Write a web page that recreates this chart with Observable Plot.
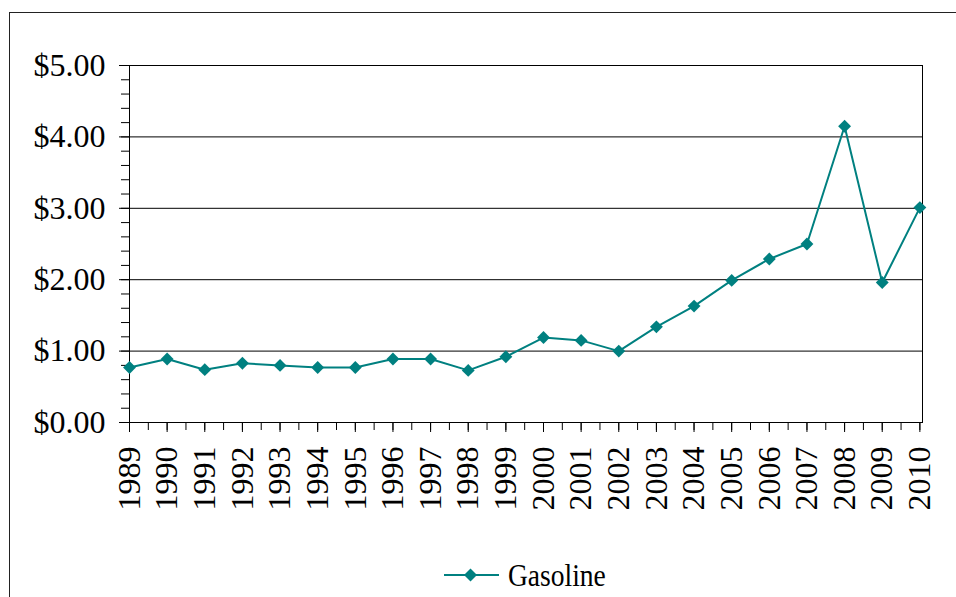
<!DOCTYPE html>
<html>
<head>
<meta charset="utf-8">
<script src="https://cdn.jsdelivr.net/npm/d3@7"></script>
<script src="https://cdn.jsdelivr.net/npm/@observablehq/plot@0.6"></script>
<style>
  html, body { margin: 0; padding: 0; background: #fff; }
  #wrap { position: relative; width: 956px; height: 597px; overflow: hidden; background: #fff; }
  #outer { position: absolute; left: 9px; top: 12px; width: 2000px; height: 2000px; border-left: 1.5px solid #222; border-top: 1.5px solid #222; box-sizing: border-box; }
  #chart { position: absolute; left: 0; top: 0; }
  #legend { position: absolute; left: 444px; top: 560px; height: 30px; display: flex; align-items: center; font-family: 'Liberation Serif', 'Times New Roman', serif; font-size: 32px; color: #000; }
  #legend span { display: inline-block; transform: scaleX(0.86); transform-origin: left center; margin-left: 8px; line-height: 30px; }
</style>
</head>
<body>
<div id="wrap">
  <div id="outer"></div>
  <div id="chart"></div>
  <div id="legend"></div>
</div>
<script>
const years = [1989, 1990, 1991, 1992, 1993, 1994, 1995, 1996, 1997, 1998, 1999, 2000, 2001, 2002, 2003, 2004, 2005, 2006, 2007, 2008, 2009, 2010];
const gasoline = [0.77, 0.89, 0.74, 0.83, 0.80, 0.77, 0.77, 0.89, 0.89, 0.73, 0.92, 1.19, 1.15, 1.00, 1.34, 1.63, 1.99, 2.29, 2.50, 4.15, 1.96, 3.01];
const yTicks = [0, 1, 2, 3, 4, 5];
const yTickLabels = ["$0.00", "$1.00", "$2.00", "$3.00", "$4.00", "$5.00"];
const seriesName = "Gasoline";
const color = "#008080";

const data = years.map((year, i) => ({year, price: gasoline[i]}));
const yMinor = d3.range(0, 5.0001, 0.2);
const xMinor = d3.range(years[0], years[years.length - 1] + 0.0001, 0.5);

const chart = Plot.plot({
  width: 956,
  height: 540,
  marginLeft: 129,
  marginRight: 34,
  marginTop: 65,
  marginBottom: 118,
  style: {fontFamily: "'Liberation Serif', 'Times New Roman', serif", fontSize: "32px", color: "#000", background: "transparent"},
  x: {domain: [1989, 2010.07], axis: null, label: null},
  y: {domain: [0, 5], axis: null, label: null},
  marks: [
    Plot.gridY([1, 2, 3, 4], {stroke: "#000", strokeOpacity: 1}),
    Plot.frame({stroke: "#000"}),
    Plot.axisY(yMinor, {tickSize: 8, tickFormat: () => "", stroke: "#000", label: null}),
    Plot.axisY(yTicks, {tickSize: 10, tickPadding: 14, stroke: "#000", fill: "#000", fontSize: 32, label: null, tickFormat: (d) => yTickLabels[yTicks.indexOf(d)]}),
    Plot.axisX(xMinor, {tickSize: 8, tickFormat: () => "", stroke: "#000", label: null}),
    Plot.axisX(years, {tickSize: 10, tickPadding: 14, tickRotate: -90, stroke: "#000", fill: "#000", fontSize: 32, label: null, tickFormat: (d) => `${d}`}),
    Plot.line(data, {x: "year", y: "price", stroke: color, strokeWidth: 2}),
    Plot.dot(data, {x: "year", y: "price", symbol: "diamond2", r: 5.8, fill: color, stroke: "none"})
  ]
});
document.getElementById("chart").appendChild(chart);

const legend = document.getElementById("legend");
legend.innerHTML = `<svg width="56" height="20" viewBox="0 0 56 20"><line x1="0" y1="10" x2="55" y2="10" stroke="${color}" stroke-width="2"/><polygon points="26.5,3.5 33,10 26.5,16.5 20,10" fill="${color}"/></svg><span>${seriesName}</span>`;
</script>
</body>
</html>
